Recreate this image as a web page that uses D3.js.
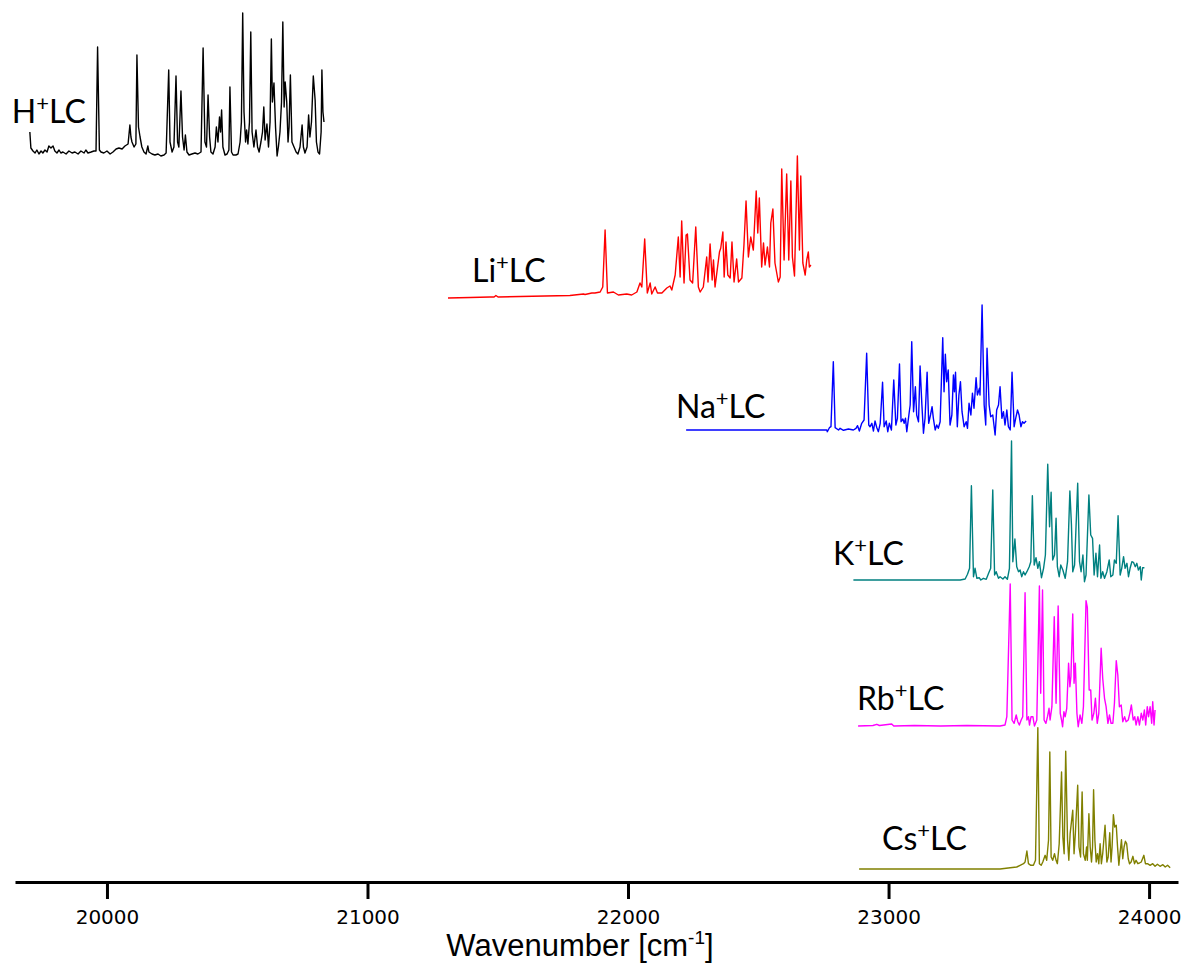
<!DOCTYPE html>
<meta charset="utf-8">
<head>
  <title>LC spectra</title>
  <style>body { margin: 0; background: #fff; }</style>
</head>
<body>
<script src="https://cdnjs.cloudflare.com/ajax/libs/d3/7.8.5/d3.min.js"></script>
<script>

// ion names and vertical offsets of each trace (arb. units)
const ions = ["H", "Li", "Na", "K", "Rb", "Cs"];
const baselines = [73.0, 58.4, 45.2, 30.2, 15.6, 1.3];

// [wavenumber, intensity above own baseline]
const hLC = [
  [19704,2.0],[19708,0.4],[19716,0.1],[19724,-0.1],[19731,0.2],[19739,-0.2],[19747,0.1],[19754,-0.1],
  [19762,0.2],[19770,0],[19777,0.6],[19785,0.4],[19793,0.6],[19800,0.1],[19808,-0.1],[19816,0.2],
  [19823,-0.1],[19831,0],[19843,-0.2],[19854,0.1],[19866,-0.1],[19877,0],[19889,-0.2],[19900,0.1],
  [19912,-0.1],[19919,0.2],[19927,-0.1],[19939,0],[19950,0.1],[19958,0.1],[19964,10.5],[19971,0.2],
  [19977,0],[19988,-0.1],[20000,0.1],[20012,-0.2],[20023,0],[20035,0.3],[20046,0.4],[20058,0.3],
  [20069,0.6],[20081,0.8],[20088,2.7],[20092,1.5],[20096,1.0],[20104,0.5],[20111,0.8],[20115,9.7],
  [20121,2.5],[20127,1.5],[20134,0.5],[20142,0],[20150,-0.2],[20157,0.6],[20161,0],[20173,-0.2],
  [20184,-0.3],[20196,-0.2],[20207,-0.4],[20219,-0.3],[20227,-0.1],[20237,8.2],[20242,1.0],[20250,0],
  [20257,0.5],[20265,7.6],[20271,1.0],[20276,0.5],[20284,6.1],[20290,1.5],[20296,0.2],[20301,1.7],
  [20307,0],[20315,-0.3],[20326,-0.2],[20338,-0.1],[20349,-0.2],[20361,0],[20369,10.4],[20376,1.0],
  [20382,0.5],[20388,5.7],[20394,1.5],[20399,0],[20407,-0.2],[20415,0.5],[20420,2.5],[20426,1.0],
  [20432,3.5],[20436,2.0],[20440,4.2],[20445,0.5],[20453,-0.3],[20461,-0.2],[20468,0.2],[20472,6.5],
  [20478,0],[20484,-0.3],[20495,-0.3],[20503,-0.2],[20511,1.0],[20516,3.0],[20521,13.9],[20526,4.0],
  [20532,1.0],[20536,2.2],[20541,0.8],[20547,3.0],[20552,12.0],[20557,2.0],[20564,0.5],[20572,2.2],
  [20578,0.5],[20584,0],[20591,1.0],[20597,2.0],[20602,4.5],[20607,1.2],[20614,2.8],[20620,0.5],
  [20626,3.0],[20631,11.3],[20635,5.0],[20641,6.9],[20647,2.5],[20653,-0.4],[20658,0.5],[20664,2.0],
  [20670,5.0],[20675,13.0],[20680,4.5],[20684,7.0],[20690,5.0],[20695,1.0],[20699,2.5],[20704,7.7],
  [20710,1.0],[20718,0.5],[20726,0],[20733,-0.2],[20741,0.5],[20749,2.7],[20754,0.5],[20760,-0.1],
  [20768,0.5],[20774,3.7],[20779,1.5],[20785,3.0],[20792,7.6],[20799,5.2],[20804,1.0],[20810,0],
  [20816,-0.2],[20822,2.0],[20825,8.2],[20829,4.0],[20833,3.0]
];

const liLC = [
  [21309,0],[21394,0.05],[21470,0.1],[21486,0.1],[21493,0.25],[21501,0.1],[21586,0.15],[21681,0.2],
  [21777,0.25],[21829,0.4],[21835,0.35],[21861,0.5],[21873,0.5],[21893,0.6],[21903,1.1],[21912,6.8],
  [21921,0.5],[21944,0.6],[21963,0.3],[21995,0.4],[22014,0.3],[22034,0.6],[22046,1.5],[22053,1.1],
  [22064,5.9],[22074,0.5],[22085,1.5],[22091,0.4],[22104,1.1],[22113,0.5],[22130,0.5],[22149,1.0],
  [22161,1.2],[22168,0.8],[22181,2.3],[22193,6.1],[22200,2.1],[22206,7.7],[22215,1.5],[22223,6.3],
  [22228,6.4],[22238,1.8],[22248,1.5],[22260,7.1],[22270,1.1],[22277,0.6],[22289,1.1],[22302,4.1],
  [22307,1.6],[22315,5.4],[22323,1.8],[22328,3.8],[22334,1.1],[22351,4.6],[22356,5.0],[22364,6.6],
  [22369,2.1],[22376,5.6],[22383,2.3],[22392,2.0],[22399,5.6],[22407,1.6],[22417,3.9],[22424,1.6],
  [22437,2.0],[22445,5.3],[22453,9.7],[22462,4.1],[22471,6.1],[22481,4.8],[22492,10.7],[22498,6.5],
  [22504,10.0],[22513,3.1],[22520,5.5],[22526,3.3],[22535,5.1],[22543,3.1],[22548,7.5],[22556,8.9],
  [22564,3.5],[22577,1.6],[22584,2.1],[22590,12.9],[22599,3.8],[22609,12.4],[22617,3.8],[22625,11.7],
  [22631,4.1],[22639,2.2],[22650,14.2],[22658,4.8],[22663,12.2],[22671,3.5],[22680,2.3],[22686,3.8],
  [22692,4.6],[22696,3.1],[22702,3.3]
];

const naLC = [
  [22223,0],[22737,0],[22763,0],[22765,-0.17],[22773,0.23],[22779,0.33],[22788,6.83],[22795,0.23],
  [22808,0],[22814,0.17],[22827,-0.03],[22846,0.1],[22865,0],[22875,0.17],[22881,0.43],[22888,-0.1],
  [22897,0.67],[22906,1.0],[22916,7.67],[22924,0.5],[22929,0.33],[22936,0.67],[22942,-0.1],[22948,0.9],
  [22955,0.23],[22961,-0.17],[22968,0.67],[22977,4.77],[22983,0.33],[22991,0.9],[22997,-0.17],[23003,0.67],
  [23011,0],[23020,5.0],[23028,0.5],[23034,1.17],[23042,6.6],[23048,0.83],[23055,1.1],[23060,0.67],
  [23065,1.17],[23070,-0.17],[23078,1.5],[23083,2.5],[23089,8.83],[23096,1.83],[23103,4.33],[23108,1.5],
  [23115,0.83],[23121,6.4],[23128,2.5],[23134,-0.33],[23140,1.17],[23148,5.77],[23154,0.67],[23161,1.5],
  [23167,2.33],[23172,1.17],[23179,0],[23185,0.5],[23191,0.17],[23198,0.83],[23208,9.23],[23213,3.83],
  [23218,7.57],[23223,4.83],[23229,6.0],[23236,0.5],[23243,1.5],[23249,5.5],[23253,3.83],[23257,5.77],
  [23264,0.33],[23270,3.5],[23276,4.83],[23282,1.83],[23290,0.33],[23298,0.83],[23303,0.17],[23309,2.67],
  [23316,1.5],[23322,3.67],[23328,2.17],[23336,5.23],[23341,3.5],[23349,4.17],[23351,3.5],[23359,12.5],
  [23367,2.5],[23373,0.5],[23378,8.17],[23386,2.5],[23392,1.33],[23400,1.5],[23409,-0.5],[23415,2.0],
  [23422,2.5],[23428,4.33],[23435,1.17],[23441,1.83],[23447,0.5],[23454,2.0],[23460,0.33],[23467,0],
  [23474,5.77],[23482,0.33],[23488,1.17],[23495,2.0],[23501,1.5],[23508,0.33],[23514,0.83],[23520,0.67],
  [23528,0.9]
];

const kLC = [
  [22865,0],[23275,0],[23294,0.1],[23303,0.57],[23311,1.17],[23318,9.43],[23326,0.33],[23332,1.17],
  [23339,0.17],[23348,0.23],[23354,0],[23364,0.17],[23375,0.07],[23384,0.67],[23392,1.17],[23400,9.0],
  [23407,0.5],[23413,0.83],[23422,0.17],[23428,0.33],[23439,0.1],[23447,0.33],[23456,0.07],[23464,1.17],
  [23472,13.9],[23477,1.83],[23485,4.1],[23492,1.33],[23499,0.83],[23505,1.0],[23511,0.33],[23518,0.83],
  [23524,0.5],[23531,0.83],[23540,1.33],[23546,1.83],[23552,8.43],[23559,1.5],[23566,2.23],[23573,1.17],
  [23579,1.83],[23587,0.23],[23595,1.17],[23602,2.5],[23611,11.57],[23618,5.33],[23624,8.77],[23630,2.0],
  [23637,2.5],[23643,6.17],[23648,1.33],[23655,0.33],[23661,1.5],[23669,1.0],[23678,0.17],[23687,1.83],
  [23696,8.9],[23702,5.5],[23707,0.83],[23714,1.5],[23726,9.67],[23733,1.83],[23739,0.83],[23746,2.5],
  [23752,-0.17],[23758,0.5],[23769,8.5],[23776,4.5],[23783,4.17],[23789,0.5],[23796,2.67],[23802,0.33],
  [23810,3.5],[23815,0.17],[23822,0.83],[23829,0.17],[23838,0.83],[23847,2.0],[23853,0.33],[23861,0.5],
  [23867,2.0],[23874,1.67],[23881,6.43],[23889,0.5],[23895,1.17],[23902,2.33],[23908,1.17],[23915,1.67],
  [23921,0.33],[23927,1.17],[23934,1.83],[23940,1.77],[23947,1.33],[23953,1.67],[23959,1.0],[23966,1.33],
  [23970,0],[23975,1.23],[23982,1.23]
];

const rbLC = [
  [22883,0],[22940,0.05],[22955,0.17],[22965,0.05],[23012,0.2],[23020,0],[23100,0.05],[23200,0],
  [23300,0.05],[23428,0],[23447,0.1],[23454,0.93],[23467,14.2],[23474,0.6],[23482,0.27],[23490,1.1],
  [23496,0.43],[23502,0.1],[23509,0.6],[23515,0.93],[23524,13.33],[23531,0.6],[23537,0.93],[23541,0.1],
  [23547,0.93],[23554,0.93],[23560,0],[23569,0.6],[23579,14.0],[23584,3.27],[23591,13.6],[23597,0.6],
  [23604,0.27],[23610,0.93],[23616,1.77],[23620,0.6],[23627,1.93],[23636,10.93],[23643,2.27],[23651,12.0],
  [23659,1.27],[23664,0.6],[23668,-0.07],[23673,1.43],[23678,0.93],[23684,1.77],[23691,6.27],[23696,3.93],
  [23700,4.93],[23707,11.2],[23712,4.27],[23717,6.27],[23723,1.27],[23728,-0.07],[23735,1.1],[23742,0.27],
  [23748,1.93],[23758,12.53],[23763,11.87],[23770,3.6],[23776,3.6],[23781,0.6],[23788,1.27],[23794,2.77],
  [23801,0.27],[23807,1.27],[23816,7.77],[23822,4.77],[23829,2.77],[23835,1.93],[23842,0.27],[23848,1.1],
  [23854,0.27],[23861,0.27],[23867,2.27],[23874,6.53],[23880,5.1],[23886,1.93],[23893,2.1],[23899,0.43],
  [23906,0.93],[23912,0.43],[23920,0.6],[23926,1.27],[23932,2.1],[23939,0.6],[23945,0.93],[23950,0.1],
  [23957,0.93],[23963,0.1],[23970,1.27],[23976,0.6],[23982,1.6],[23987,0.1],[23993,1.93],[23998,0.93],
  [24004,1.93],[24010,0.27],[24014,2.43],[24019,0.1],[24023,1.6]
];

const csLC = [
  [22887,0],[23428,0],[23467,0.13],[23492,0.2],[23505,0.37],[23518,0.53],[23524,0.7],[23531,1.8],
  [23537,0.53],[23546,0.37],[23556,0.37],[23564,0.87],[23573,14.13],[23579,0.53],[23586,0.37],[23592,0.7],
  [23601,1.37],[23607,0.87],[23614,2.87],[23619,11.7],[23624,1.2],[23630,0.87],[23637,1.53],[23643,0.87],
  [23648,0.53],[23655,2.53],[23664,9.7],[23669,3.2],[23674,1.53],[23680,11.77],[23687,2.87],[23692,0.87],
  [23697,3.53],[23707,5.87],[23712,1.53],[23717,3.53],[23726,8.37],[23731,2.2],[23737,1.2],[23743,7.7],
  [23748,1.53],[23755,0.87],[23760,2.2],[23763,0.87],[23769,5.53],[23774,2.2],[23779,0.7],[23783,2.2],
  [23787,7.93],[23792,2.87],[23797,0.7],[23802,1.53],[23807,0.53],[23812,2.53],[23817,0.53],[23822,1.53],
  [23831,4.37],[23838,0.7],[23843,1.2],[23849,3.63],[23854,0.7],[23858,2.2],[23863,5.43],[23868,4.2],
  [23874,4.37],[23879,2.2],[23884,0.37],[23889,1.7],[23894,2.93],[23899,1.03],[23904,2.2],[23909,2.77],
  [23914,2.53],[23920,1.03],[23925,0.53],[23931,0.7],[23938,1.27],[23944,0.53],[23950,0.87],[23957,0.53],
  [23963,0.6],[23970,0.7],[23980,1.37],[23986,0.53],[23994,0.53],[24004,0.37],[24014,0.53],[24023,0.27],
  [24032,0.47],[24042,0.27],[24053,0.43],[24062,0.2],[24071,0.37],[24081,0.13]
];

const spectra = [hLC, liLC, naLC, kLC, rbLC, csLC];
const xTicks = [20000, 21000, 22000, 23000, 24000];

// styling / layout
const colors = ["#000000", "#ff0000", "#0000ff", "#008080", "#ff00ff", "#808000"];
const labelAt = [[19635, 2.9], [21401, 1.6], [22184, 1.2], [22787, 1.5], [22879, 1.6], [22975, 1.9]];

const totalWidth = 1182, totalHeight = 969;

const svg = d3.select("body")
  .append("svg")
  .attr("width", totalWidth)
  .attr("height", totalHeight);

const x = d3.scaleLinear()
  .domain([19647, 24111])
  .range([15, 1178]);

const y = d3.scaleLinear()
  .domain([0, 88.2])
  .range([882, 0]);

spectra.forEach((data, i) => {
  const off = baselines[i];
  const line = d3.line()
    .x(d => x(d[0]))
    .y(d => y(off + d[1]));

  svg.append("path")
    .attr("d", line(data))
    .attr("fill", "none")
    .attr("stroke", colors[i])
    .attr("stroke-width", 1.4)
    .attr("stroke-linejoin", "round");

  const lab = svg.append("text")
    .attr("x", x(labelAt[i][0]))
    .attr("y", y(off + labelAt[i][1]))
    .attr("font-family", "Lato, 'Open Sans', sans-serif")
    .attr("font-size", 32)
    .attr("fill", "#000");
  lab.append("tspan").text(ions[i]);
  lab.append("tspan").attr("dy", -12).attr("font-size", 22).text("+");
  lab.append("tspan").attr("dy", 12).text("LC");
});

// wavenumber axis
const axis = svg.append("g")
  .attr("transform", "translate(0," + y(0) + ")")
  .call(d3.axisBottom(x).tickValues(xTicks).tickFormat(d3.format("d"))
    .tickSize(17).tickSizeOuter(0).tickPadding(11));

axis.select(".domain").attr("stroke-width", 3);
axis.selectAll(".tick line").attr("stroke-width", 3);
axis.selectAll(".tick text")
  .attr("font-family", "'DejaVu Sans', sans-serif")
  .attr("font-size", 20)
  .attr("fill", "#000");

const title = svg.append("text")
  .attr("x", 580)
  .attr("y", 956)
  .attr("text-anchor", "middle")
  .attr("font-family", "'Liberation Sans', Arial, sans-serif")
  .attr("font-size", 31)
  .attr("fill", "#000");
title.append("tspan").text("Wavenumber [cm");
title.append("tspan").attr("dy", -12).attr("font-size", 19).text("-1");
title.append("tspan").attr("dy", 12).text("]");

</script>
</body>
</html>
